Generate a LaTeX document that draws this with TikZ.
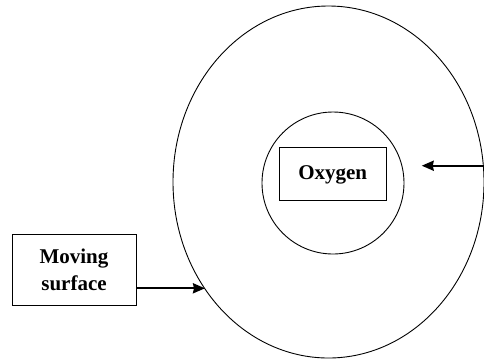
\documentclass[tikz,border=0pt]{standalone}
\usepackage{fontspec}
\setmainfont{Liberation Serif}
\usetikzlibrary{arrows.meta}
\begin{document}
\begin{tikzpicture}[x=1pt,y=-1pt,
  thinline/.style={draw=black,line width=0.9pt},
  labelbox/.style={thinline,rectangle,inner sep=0pt,font=\fontsize{21}{26.5}\selectfont\bfseries,align=center},
  pusharrow/.style={line width=2.3pt,-{Stealth[length=12pt,width=10pt,inset=1pt]}}]
\useasboundingbox (0,0) rectangle (484,360);
\clip (0,0) rectangle (484,360);
\draw[thinline] (328.5,182) ellipse [x radius=155.5, y radius=176];
\node[thinline,circle,minimum size=142pt,inner sep=0pt] (inner) at (333,183) {};
\node[labelbox,minimum width=107pt,minimum height=53pt] (oxy) at (332.7,174.4) {Oxygen};
\node[labelbox,minimum width=124pt,minimum height=71pt] (move) at (74,270) {Moving\\surface};
\coordinate (rstart) at (486,165.7);
\coordinate (rtip) at (421.7,165.7);
\coordinate (ltip) at (205,288.3);
\draw[pusharrow] (rstart) -- (rtip);
\draw[pusharrow] (move.east |- ltip) -- (ltip);
\end{tikzpicture}
\end{document}
